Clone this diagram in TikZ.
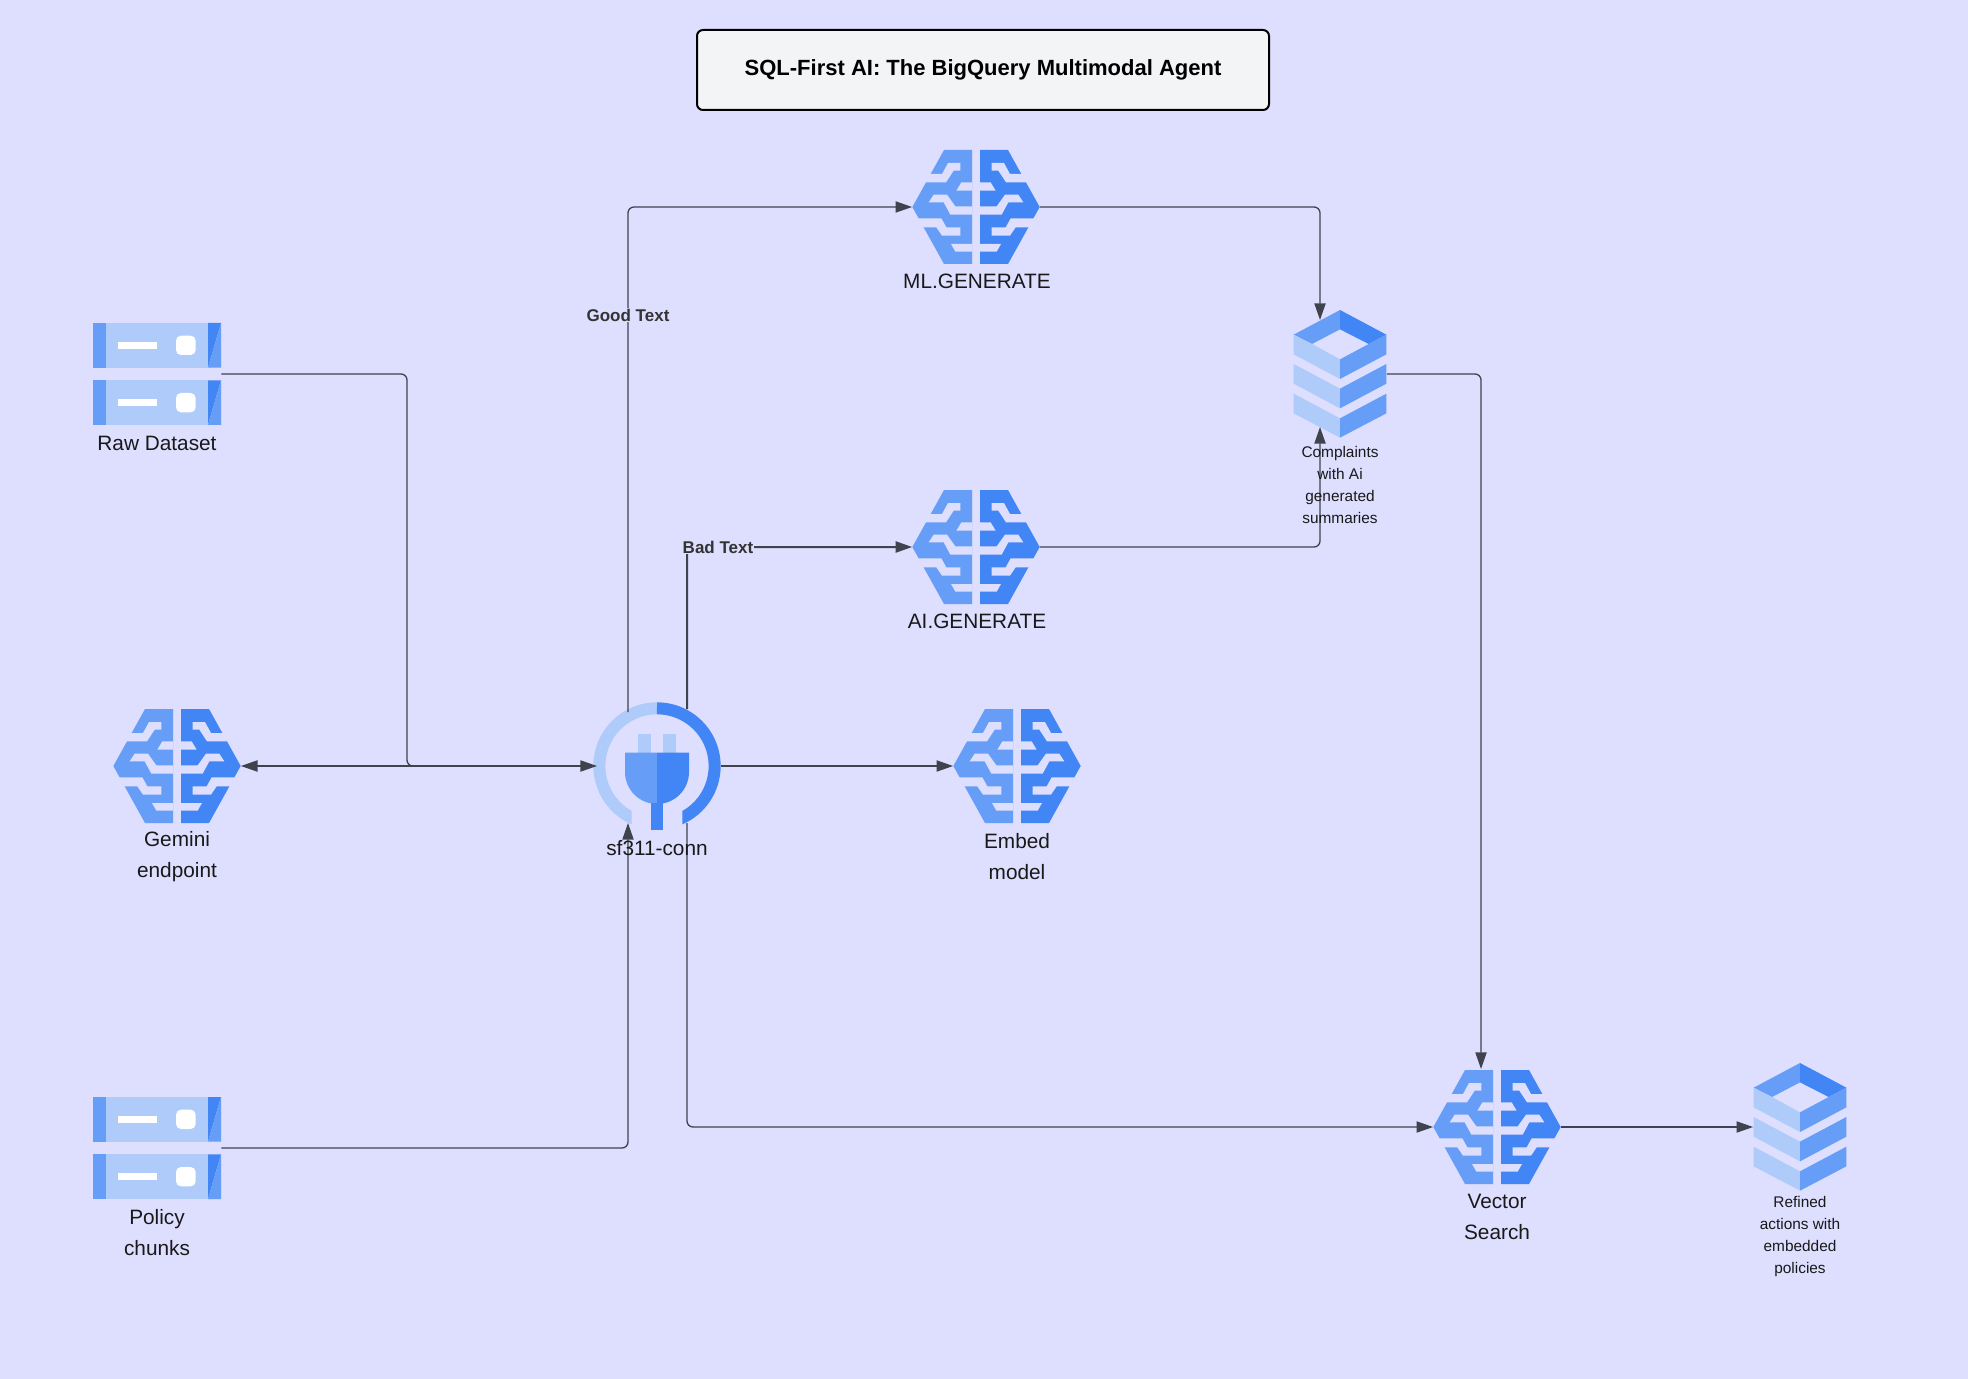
\documentclass[tikz,border=0pt]{standalone}
\usepackage{fontspec}
\setmainfont{Liberation Sans}
\usetikzlibrary{arrows.meta}
\definecolor{bgcol}{HTML}{DEDEFF}
\definecolor{bluedark}{HTML}{4285F4}
\definecolor{bluemid}{HTML}{669DF6}
\definecolor{bluelite}{HTML}{AECBFA}
\definecolor{linecol}{HTML}{3F434D}
\newcommand{\brainhalf}[2]{%
	\begin{scope}[xscale=#1]
		\fill [#2] (-12,-171) -- (-96,-171) -- (-191,0) -- (-96,171) -- (-12,171) -- cycle;
		\fill [bgcol] (-145,-99) -- (-102,-99) -- (-84,-132) -- (-47,-132) -- (-47,-109) -- (-67,-109) -- (-90,-74) -- (-160,-74) -- cycle;
		\fill [bgcol] (-44,-74) -- (-12,-74) -- (-12,-49) -- (-59,-49) -- cycle;
		\fill [bgcol] (-142,-14) -- (-127,-37) -- (-87,-37) -- (-62,-2) -- (-12,-2) -- (-12,23) -- (-77,23) -- (-97,-14) -- cycle;
		\fill [bgcol] (-174,34) -- (-104,34) -- (-89,61) -- (-47,61) -- (-47,86) -- (-102,86) -- (-119,61) -- (-165,61) -- cycle;
		\fill [bgcol] (-75,111) -- (-12,111) -- (-12,134) -- (-62,134) -- cycle;
	\end{scope}}
\newcommand{\plughalf}[2]{%
	\begin{scope}[xscale=#1]
		\fill [#2] (0,-191) arc (-90:-246.6:191) -- (-76,135) arc (-240.6:-90:155) -- cycle;
	\end{scope}}
\tikzset{
	brainicon/.pic={
		\begin{scope}[scale=1/3]
			\brainhalf{1}{bluemid}
			\brainhalf{-1}{bluedark}
		\end{scope}},
	servericon/.pic={
		\begin{scope}[scale=1/3]
			\foreach \ypos in {-86,86} {
				\begin{scope}[yshift=\ypos*0.5pt]
					\fill [bluelite] (-153,-67) rectangle (153,67);
					\fill [bluemid] (-192,-67) rectangle (-153,67);
					\fill [bluedark] (153,-67) -- (192,-67) -- (153,67) -- cycle;
					\fill [bluemid] (192,-67) -- (192,67) -- (153,67) -- cycle;
					\fill [white] (-116,-11) rectangle (1,10);
					\fill [white, rounded corners=2.5pt] (57,-29) rectangle (116,29);
				\end{scope}
			}
		\end{scope}},
	stackicon/.pic={
		\begin{scope}[scale=1/3]
			\fill [bluemid] (-139,-118) -- (0,-192) -- (0,-134) -- (-84,-90) -- cycle;
			\fill [bluedark] (139,-118) -- (0,-192) -- (0,-134) -- (86,-90) -- cycle;
			\fill [bluelite] (-139,-118) -- (-84,-90) -- (0,-44) -- (0,15) -- (-139,-59) -- cycle;
			\fill [bluemid] (139,-118) -- (86,-90) -- (0,-44) -- (0,15) -- (139,-59) -- cycle;
			\fill [bluelite] (-139,-30) -- (0,44) -- (0,103) -- (-139,29) -- cycle;
			\fill [bluemid] (139,-30) -- (0,44) -- (0,103) -- (139,29) -- cycle;
			\fill [bluelite] (-139,59) -- (0,133) -- (0,191) -- (-139,118) -- cycle;
			\fill [bluemid] (139,59) -- (0,133) -- (0,191) -- (139,118) -- cycle;
		\end{scope}},
	plugicon/.pic={
		\begin{scope}[scale=1/3]
			\plughalf{1}{bluelite}
			\plughalf{-1}{bluedark}
			\fill [bluelite] (-57,-96) rectangle (-19,-40);
			\fill [bluelite] (19,-96) rectangle (57,-40);
			\fill [bluemid] (0,-40) -- (-96,-40) -- (-96,18) arc (180:90:96) -- cycle;
			\fill [bluedark] (0,-40) -- (96,-40) -- (96,18) arc (0:90:96) -- cycle;
			\fill [bluedark] (-19,110) rectangle (19,192);
		\end{scope}}
}
\begin{document}
\begin{tikzpicture}
	[x=0.5pt,y=-0.5pt,inner sep=0pt,
	brainbox/.style={minimum width=63.5pt,minimum height=57pt},
	serverbox/.style={minimum width=64pt,minimum height=51pt},
	stackbox/.style={minimum width=46.5pt,minimum height=64pt},
	plugbox/.style={circle,minimum size=64pt},
	titlebox/.style={draw=black,line width=1pt,fill=titlefill,rounded corners=3pt,minimum width=286pt,minimum height=40pt,font=\fontsize{11}{13}\selectfont\bfseries},
	biglabel/.style={align=center,text=black!90,font=\fontsize{10.4}{15.5}\selectfont},
	smalllabel/.style={align=center,text=black!90,font=\fontsize{7.7}{11}\selectfont},
	edgelabel/.style={fill=bgcol,text=black!80,inner sep=0.5pt,font=\fontsize{8.5}{10}\selectfont\bfseries},
	link/.style={draw=linecol,line width=0.65pt,rounded corners=3pt,-{Triangle[length=8.3pt,width=5.6pt]}},
	tail/.style={link,-}]
	\definecolor{titlefill}{HTML}{F3F4F6}
	\fill [bgcol] (0,0) rectangle (1968,1379);
	% title
	\node (title) at (983,70) [titlebox] {SQL-First AI: The BigQuery Multimodal Agent};
	% icons
	\node (raw) at (157,374) [serverbox] {};
	\node (policy) at (157,1148) [serverbox] {};
	\node (gemini) at (177,766) [brainbox] {};
	\node (conn) at (657,766) [plugbox] {};
	\node (mlgen) at (976,207) [brainbox] {};
	\node (aigen) at (976,547) [brainbox] {};
	\node (embed) at (1017,766) [brainbox] {};
	\node (vector) at (1497,1127) [brainbox] {};
	\node (complaints) at (1340,374) [stackbox] {};
	\node (refined) at (1800,1127) [stackbox] {};
	\pic at (raw) {servericon};
	\pic at (policy) {servericon};
	\pic at (gemini) {brainicon};
	\pic at (conn) {plugicon};
	\pic at (mlgen) {brainicon};
	\pic at (aigen) {brainicon};
	\pic at (embed) {brainicon};
	\pic at (vector) {brainicon};
	\pic at (complaints) {stackicon};
	\pic at (refined) {stackicon};
	% free ends of the links
	\coordinate (connin) at (597,766);
	\coordinate (goodout) at (628,712);
	\coordinate (badout) at (687,709);
	\coordinate (policyin) at (628,823);
	\coordinate (vectorout) at (687,823);
	\coordinate (bend) at (407,766);
	\coordinate (mlin) at (1320,320);
	\coordinate (aiin) at (1320,427);
	\coordinate (vectorin) at (1481,1069);
	% links
	\draw [link] (raw.east) -| (bend) -- (connin);
	\draw [link] (conn.west) -- (gemini.east);
	\draw [link] (policy.east) -| (policyin);
	\draw [link] (goodout) |- (mlgen.west);
	\draw [link,line width=1pt] (badout) |- (aigen.west);
	\draw [link] (conn.east) -- (embed.west);
	\draw [link] (mlgen.east) -| (mlin);
	\draw [link] (aigen.east) -| (aiin);
	\draw [link] (complaints.east) -| (vectorin);
	\draw [link] (vectorout) |- (vector.west);
	\draw [link] (vector.east) -- (refined.west);
	% labels
	\node (goodlabel) at (628,315) [edgelabel] {Good Text};
	\node (badlabel) at (718,547) [edgelabel] {Bad Text};
	\node (rawlabel) at (157,443) [biglabel] {Raw Dataset};
	\node (policylabel) at (157,1233) [biglabel] {Policy\\chunks};
	\node (geminilabel) at (177,857) [biglabel] {Gemini\\endpoint};
	\node (connlabel) at (657,848) [biglabel] {sf311-conn};
	\node (mllabel) at (977,281) [biglabel] {ML.GENERATE};
	\node (ailabel) at (977,621) [biglabel] {AI.GENERATE};
	\node (embedlabel) at (1017,857) [biglabel] {Embed\\model};
	\node (vectorlabel) at (1497,1217) [biglabel] {Vector\\Search};
	\node (complaintslabel) at (1340,485) [smalllabel] {Complaints\\with Ai\\generated\\summaries};
	\node (refinedlabel) at (1800,1237) [smalllabel] {Refined\\actions with\\embedded\\policies};
\end{tikzpicture}
\end{document}
